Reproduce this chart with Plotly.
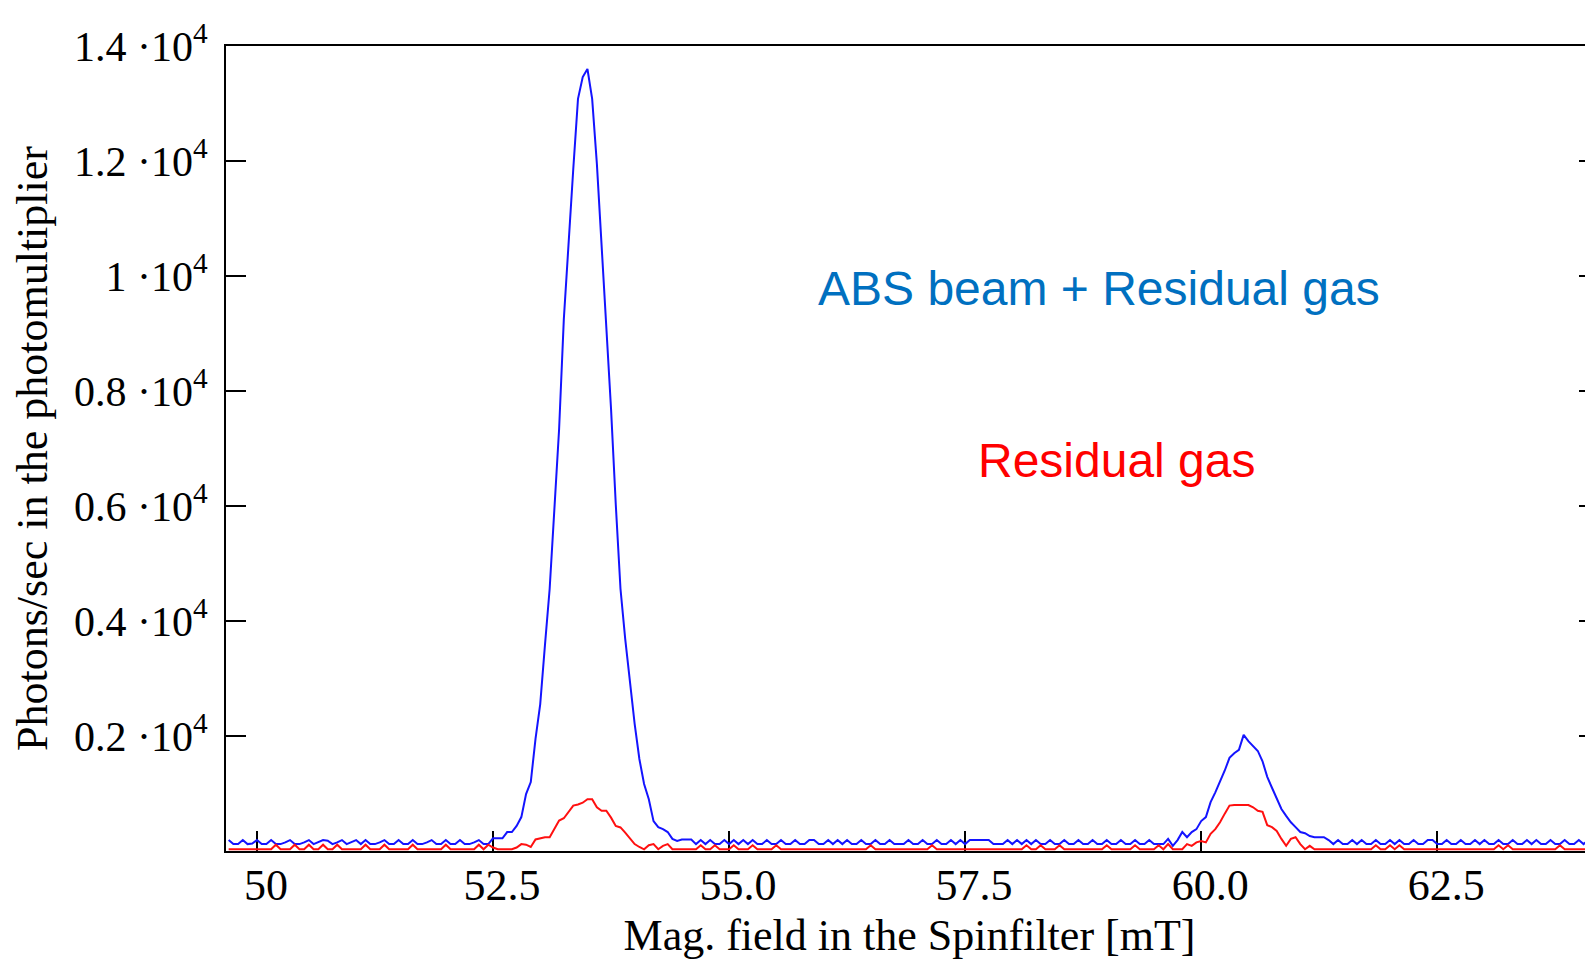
import plotly.graph_objects as go

# ---------------- data ----------------
STEP = 0.05  # mT sampling step

# segment start fields [mT]
seg1_start = 49.70
peak1_start = 52.50
seg2_start = 54.50
peak2_start = 59.60
seg3_start = 61.30

# ABS beam + residual gas (blue), photons/sec
blue_seg1 = [190, 120, 120, 190, 120, 130, 190, 120, 120, 190,
             120, 120, 150, 190, 120, 120, 150, 190, 120, 150,
             190, 180, 120, 150, 190, 120, 150, 190, 120, 190,
             120, 120, 150, 190, 120, 120, 190, 120, 120, 190,
             120, 120, 150, 190, 120, 120, 190, 120, 120, 190,
             120, 120, 150, 190, 120, 120]
blue_peak1 = [220, 220, 220, 330, 330, 435, 590, 990, 1200, 1950,
              2555, 3580, 4560, 5950, 7340, 9250, 10640, 11860, 13080, 13460,
              13600, 13080, 11950, 10560, 9170, 7690, 6030, 4560, 3690, 2900,
              2210, 1600, 1165, 900, 520, 415, 380, 330, 210, 175]
blue_seg2 = [200, 200, 200, 120, 190, 120, 190, 120, 120, 190,
             120, 190, 120, 190, 120, 190, 120, 120, 190, 120,
             120, 190, 120, 120, 190, 120, 120, 190, 190, 120,
             120, 190, 120, 190, 120, 190, 120, 120, 190, 120,
             120, 190, 120, 120, 190, 120, 120, 120, 190, 120,
             120, 190, 120, 120, 190, 120, 120, 190, 120, 190,
             120, 190, 190, 190, 190, 190, 120, 120, 120, 190,
             120, 190, 120, 190, 120, 190, 120, 120, 190, 120,
             120, 190, 120, 120, 190, 120, 120, 190, 120, 120,
             190, 120, 120, 190, 120, 120, 190, 120, 120, 190,
             120, 120]
blue_peak2 = [120, 210, 90, 190, 330, 240, 330, 380, 520, 590,
              850, 1020, 1200, 1400, 1620, 1700, 1760, 2020, 1910, 1830,
              1740, 1560, 1290, 1100, 920, 730, 610, 500, 415, 330,
              310, 260, 240, 240]
blue_seg3 = [240, 190, 120, 190, 120, 120, 190, 120, 190, 120,
             120, 190, 120, 120, 190, 120, 190, 120, 120, 190,
             120, 120, 190, 190, 120, 120, 190, 120, 120, 190,
             120, 120, 190, 120, 190, 120, 120, 190, 120, 120,
             190, 120, 120, 190, 120, 190, 120, 120, 190, 120,
             120, 190, 120, 120, 190, 120, 190, 120, 120]

# Residual gas only (red), photons/sec
red_seg1 = [30, 30, 30, 30, 30, 30, 30, 30, 30, 30,
            110, 30, 30, 30, 110, 30, 30, 110, 30, 30,
            110, 30, 30, 110, 30, 30, 30, 30, 30, 110,
            30, 30, 30, 110, 30, 30, 30, 30, 30, 110,
            30, 30, 30, 30, 30, 30, 110, 30, 30, 30,
            30, 30, 30, 110, 30, 110]
red_peak1 = [60, 30, 30, 30, 30, 60, 120, 110, 70, 200,
             220, 240, 240, 380, 530, 570, 690, 790, 810, 840,
             900, 900, 760, 700, 700, 580, 435, 410, 320, 210,
             120, 70, 30, 100, 120, 30, 90, 120, 30, 30]
red_seg2 = [30, 30, 30, 30, 100, 30, 30, 100, 30, 30,
            30, 100, 30, 30, 30, 100, 30, 30, 30, 30,
            100, 30, 30, 30, 30, 30, 30, 30, 30, 30,
            30, 30, 30, 30, 30, 30, 30, 30, 30, 30,
            100, 30, 30, 30, 30, 30, 30, 30, 30, 30,
            30, 30, 30, 100, 30, 30, 30, 30, 30, 30,
            30, 30, 30, 30, 30, 30, 30, 30, 30, 30,
            30, 30, 30, 100, 30, 30, 100, 30, 30, 30,
            100, 30, 30, 30, 30, 30, 30, 30, 30, 30,
            100, 30, 30, 30, 30, 30, 100, 30, 30, 30,
            30, 100]
red_peak2 = [30, 120, 30, 30, 30, 120, 90, 150, 175, 150,
             300, 380, 500, 650, 790, 800, 800, 800, 800, 760,
             700, 680, 450, 415, 350, 210, 90, 210, 240, 120,
             30, 90, 30, 30]
red_seg3 = [30, 30, 30, 30, 30, 30, 30, 30, 30, 30,
            30, 100, 30, 30, 100, 30, 100, 30, 30, 30,
            30, 30, 30, 30, 30, 30, 30, 30, 30, 30,
            30, 30, 30, 30, 30, 30, 30, 100, 30, 100,
            30, 30, 30, 30, 30, 30, 30, 30, 30, 30,
            100, 30, 30, 30, 30, 30, 30, 30, 30]

x_tickvals = [50, 52.5, 55.0, 57.5, 60.0, 62.5]
x_ticktext = ["50", "52.5", "55.0", "57.5", "60.0", "62.5"]
y_tickvals = [2000, 4000, 6000, 8000, 10000, 12000, 14000]
y_ticktext = ["0.2 ·10<sup>4</sup>", "0.4 ·10<sup>4</sup>", "0.6 ·10<sup>4</sup>",
              "0.8 ·10<sup>4</sup>", "1 ·10<sup>4</sup>", "1.2 ·10<sup>4</sup>",
              "1.4 ·10<sup>4</sup>"]

x_title = "Mag. field in the Spinfilter [mT]"
y_title = "Photons/sec in the photomultiplier"
label_blue = "ABS beam + Residual gas"
label_red = "Residual gas"


def build(segments):
    xs, ys = [], []
    for start, vals in segments:
        for i, v in enumerate(vals):
            xs.append(round(start + i * STEP, 3))
            ys.append(v)
    return xs, ys


bx, by = build([(seg1_start, blue_seg1), (peak1_start, blue_peak1), (seg2_start, blue_seg2),
                (peak2_start, blue_peak2), (seg3_start, blue_seg3)])
rx, ry = build([(seg1_start, red_seg1), (peak1_start, red_peak1), (seg2_start, red_seg2),
                (peak2_start, red_peak2), (seg3_start, red_seg3)])

# ---------------- figure ----------------
# the page body has an 8px default margin, so the figure is 8px smaller
W, H = 1585, 954
ML, MR, MT, MB = 218, 0, 38, 111
serif = "Liberation Serif, Times New Roman, serif"
sans = "Liberation Sans, Arial, sans-serif"

fig = go.Figure()
fig.add_trace(go.Scatter(x=bx, y=by, mode="lines", line=dict(color="#1414ff", width=2),
                         name=label_blue, showlegend=False, hoverinfo="x+y"))
fig.add_trace(go.Scatter(x=rx, y=ry, mode="lines", line=dict(color="#ff1010", width=2),
                         name=label_red, showlegend=False, hoverinfo="x+y"))
# carrier for the mirrored right-hand ticks
fig.add_trace(go.Scatter(x=[], y=[], yaxis="y2", showlegend=False, hoverinfo="skip"))

fig.update_layout(
    width=W, height=H, autosize=False,
    margin=dict(l=ML, r=MR, t=MT, b=MB, pad=0),
    paper_bgcolor="white", plot_bgcolor="white",
    font=dict(family=serif, size=42, color="black"),
    xaxis=dict(
        range=[49.672, 64.15], showgrid=False, zeroline=False,
        showline=True, linecolor="black", linewidth=2, mirror=True,
        ticks="inside", ticklen=20, tickwidth=1.5, tickcolor="black",
        tickmode="array", tickvals=x_tickvals, ticktext=x_ticktext,
        tickfont=dict(family=serif, size=44, color="black"),
        ticklabelstandoff=-6, ticklabelshift=9,
        title=dict(text=x_title, font=dict(family=serif, size=44, color="black"), standoff=10),
        layer="below traces",
    ),
    yaxis=dict(
        range=[0, 14000], showgrid=False, zeroline=False,
        showline=True, linecolor="black", linewidth=2, mirror=False,
        ticks="inside", ticklen=20, tickwidth=1.5, tickcolor="black",
        tickmode="array", tickvals=y_tickvals, ticktext=y_ticktext,
        tickfont=dict(family=serif, size=42, color="black"),
        ticklabelstandoff=8,
        title=dict(text=y_title, font=dict(family=serif, size=44, color="black"), standoff=16),
        layer="below traces",
    ),
    yaxis2=dict(
        overlaying="y", side="right", range=[0, 14000], matches="y",
        showgrid=False, zeroline=False, showline=False,
        ticks="inside", ticklen=14, tickwidth=1.5, tickcolor="black",
        tickmode="array", tickvals=y_tickvals, showticklabels=False,
    ),
    annotations=[
        dict(text=label_blue, xref="paper", yref="paper", x=0.6386, y=0.699,
             xanchor="center", yanchor="middle", showarrow=False,
             font=dict(family=sans, size=48, color="#0070c0")),
        dict(text=label_red, xref="paper", yref="paper", x=0.6518, y=0.485,
             xanchor="center", yanchor="middle", showarrow=False,
             font=dict(family=sans, size=48, color="#ff0000")),
    ],
)

fig.write_html("out.html")
